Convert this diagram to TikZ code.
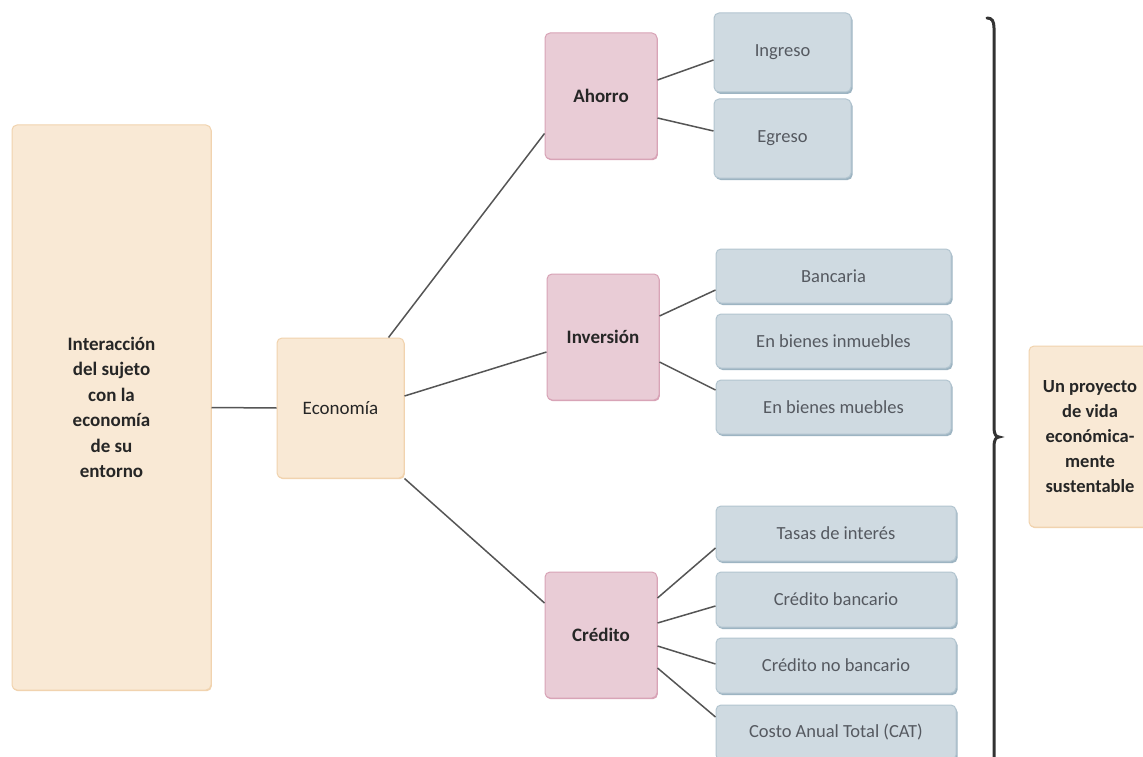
\documentclass[tikz,border=0pt]{standalone}
\usepackage{fontspec}
\setmainfont{Carlito}
\usetikzlibrary{shadows}
\definecolor{orfill}{HTML}{F9E9D5}
\definecolor{ordraw}{HTML}{F1D3AE}
\definecolor{pkfill}{HTML}{E9CCD6}
\definecolor{pkdraw}{HTML}{D8A3B6}
\definecolor{blfill}{HTML}{CFDAE1}
\definecolor{bldraw}{HTML}{B3C5D0}
\definecolor{blshade}{HTML}{9DB4C2}
\definecolor{linkcol}{HTML}{555555}
\definecolor{txtdark}{HTML}{262626}
\definecolor{txtgray}{HTML}{555960}
\begin{document}
\begin{tikzpicture}[x=1pt,y=-1pt,
  basebox/.style={rounded corners=5pt, line width=1pt, align=center, inner sep=2pt},
  orbox/.style={basebox, fill=orfill, draw=ordraw,
    drop shadow={shadow xshift=0.8pt, shadow yshift=-1.2pt, fill=ordraw, opacity=1},
    text=txtdark, font=\fontsize{19}{25.5}\selectfont},
  pkbox/.style={basebox, fill=pkfill, draw=pkdraw,
    drop shadow={shadow xshift=0.8pt, shadow yshift=-1.2pt, fill=pkdraw, opacity=1},
    text=txtdark, font=\fontsize{19}{22}\selectfont\bfseries},
  blbox/.style={basebox, fill=blfill, draw=bldraw,
    drop shadow={shadow xshift=1.5pt, shadow yshift=-2pt, fill=blshade, opacity=1},
    text=txtgray, font=\fontsize{18.5}{22}\selectfont},
  link/.style={draw=linkcol, line width=1.5pt},
  bracecol/.style={draw=black!80, line width=3pt, line cap=round}
]
\clip (0,0) rectangle (1143,757);
\fill[white] (0,0) rectangle (1143,757);

% main blocks
\node[orbox, font=\fontsize{19}{25.5}\selectfont\bfseries,
      minimum width=199pt, minimum height=565pt] (sujeto) at (111.5,407.5)
  {Interacción\\del sujeto\\con la\\economía\\de su\\entorno};
\node[orbox, minimum width=127pt, minimum height=140pt] (eco) at (340.5,408) {Economía};

% second level
\node[pkbox, minimum width=112pt, minimum height=126pt] (ahorro) at (601,96) {Ahorro};
\node[pkbox, minimum width=112pt, minimum height=126pt] (inversion) at (603,337) {Inversión};
\node[pkbox, minimum width=112pt, minimum height=126pt] (credito) at (601,635) {Crédito};

% third level
\node[blbox, minimum width=137pt, minimum height=79pt] (ingreso) at (782.5,52.5) {Ingreso};
\node[blbox, minimum width=137pt, minimum height=79pt] (egreso) at (782.5,138.5) {Egreso};

\node[blbox, minimum width=235pt, minimum height=54pt] (bancaria) at (833.5,276) {Bancaria};
\node[blbox, minimum width=235pt, minimum height=54pt] (inmuebles) at (833.5,341) {En bienes inmuebles};
\node[blbox, minimum width=235pt, minimum height=54pt] (muebles) at (833.5,407) {En bienes muebles};

\node[blbox, minimum width=240pt, minimum height=55pt] (tasas) at (836,533.5) {Tasas de interés};
\node[blbox, minimum width=240pt, minimum height=55pt] (cbanc) at (836,599.5) {Crédito bancario};
\node[blbox, minimum width=240pt, minimum height=55pt] (cnobanc) at (836,665.5) {Crédito no bancario};
\node[blbox, minimum width=240pt, minimum height=55pt] (cat) at (836,732.5) {Costo Anual Total (CAT)};

% conclusion
\node[orbox, font=\fontsize{18.5}{25}\selectfont\bfseries,
      minimum width=122pt, minimum height=181pt] (proyecto) at (1090,436.5)
  {Un proyecto\\de vida\\económica-\\mente\\sustentable};

% connectors
\draw[link] (sujeto.east) -- (eco.west);
\draw[link] ([xshift=-16pt]eco.north east) -- ([yshift=26pt]ahorro.south west);
\draw[link] ([yshift=12pt]eco.east) -- ([yshift=-15pt]inversion.west);
\draw[link] (eco.south east) -- ([yshift=32pt]credito.west);

\draw[link] ([yshift=16pt]ahorro.east) -- ([yshift=-7.5pt]ingreso.west);
\draw[link] ([yshift=-22pt]ahorro.east) -- ([yshift=7.5pt]egreso.west);

\draw[link] ([yshift=21pt]inversion.east) -- ([yshift=-14pt]bancaria.west);
\draw[link] ([yshift=-25pt]inversion.east) -- ([yshift=17pt]muebles.west);

\draw[link] ([yshift=37pt]credito.east) -- ([yshift=-14.5pt]tasas.west);
\draw[link] ([yshift=12pt]credito.east) -- ([yshift=-6.5pt]cbanc.west);
\draw[link] ([yshift=-11pt]credito.east) -- ([yshift=1.5pt]cnobanc.west);
\draw[link] ([yshift=-33pt]credito.east) -- ([yshift=15.5pt]cat.west);

% closing brace
\draw[bracecol] (987,18) .. controls (992,18) and (994,21) .. (994,28)
  -- (994,428) .. controls (994,434) and (996,437) .. (999,437)
  .. controls (996,437) and (994,440) .. (994,446) -- (994,760);
\end{tikzpicture}
\end{document}
